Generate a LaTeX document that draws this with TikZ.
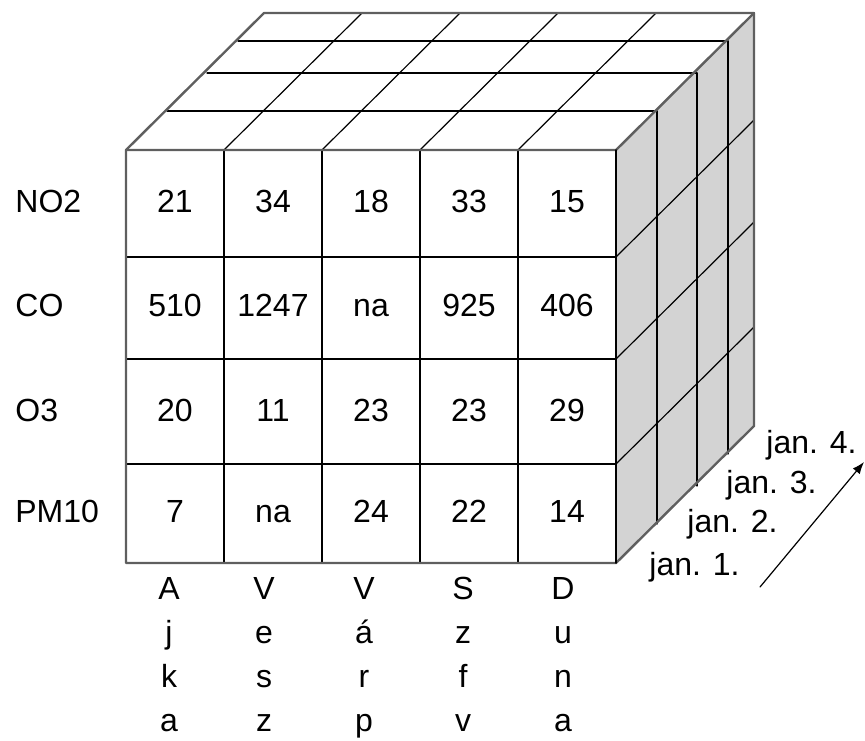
\documentclass[tikz,border=0pt]{standalone}
\usepackage{fontspec}
\setmainfont{Liberation Sans}
\usetikzlibrary{arrows.meta}
\definecolor{sideface}{RGB}{211,211,211}
\definecolor{edgegray}{RGB}{95,95,95}

\begin{document}
\begin{tikzpicture}[x=0.5pt,y=-0.5pt,>={Latex[length=6pt,width=4.5pt]},font=\fontsize{16}{22}\selectfont,line cap=round,
  grid/.style={black,line width=0.6pt},
  rim/.style={edgegray,line width=1.2pt,line join=round},
  cell/.style={anchor=base,inner sep=0pt},
  lbl/.style={anchor=base west,inner sep=0pt}]
\useasboundingbox (0,0) rectangle (865,740);
% shaded side of the cube
\fill[sideface] (616,150) -- (754,13) -- (754,426) -- (616,563) -- cycle;
% days going back
\foreach \dx/\dy in {41/39,81/77,112/109} {
  \draw[grid] (126+\dx,150-\dy) -- (616+\dx,150-\dy);
  \draw[grid] (616+\dx,150-\dy) -- (616+\dx,563-\dy);
}
\foreach \x in {224,322,420,518} {
  \draw[grid] (\x,150) -- (\x+138,13);
  \draw[grid] (\x,150) -- (\x,563);
}
\foreach \y in {257,359,464} {
  \draw[grid] (616,\y) -- (754,\y-137);
  \draw[grid] (126,\y) -- (616,\y);
}
\draw[rim] (126,563) -- (126,150) -- (264,13) -- (754,13) -- (754,426) -- (616,563) -- cycle;
\draw[rim] (126,150) -- (616,150) -- (754,13);
\draw[black,line width=0.8pt] (616,150) -- (616,563);
% measured values
\foreach \row/\base/\vals in {NO2/212/{21,34,18,33,15},CO/316/{510,1247,na,925,406},
    O3/421/{20,11,23,23,29},PM10/522/{7,na,24,22,14}} {
  \node[lbl] (\row) at (15,\base) {\row};
  \foreach \v [count=\c] in \vals
    \node[cell] (\row-\c) at (77+98*\c,\base) {\v};
}
% stations
\foreach \name/\x [count=\c] in {{A\\j\\k\\a}/169,{V\\e\\s\\z}/264,{V\\á\\r\\p}/364,{S\\z\\f\\v}/463,{D\\u\\n\\a}/563}
  \node[anchor=north,inner sep=0pt,align=center] (town\c) at (\x,577) {\name};
% days
\foreach \d/\x/\y in {1/740/575,2/778/532,3/817/493,4/857/453}
  \node[anchor=base east,inner sep=0pt] (jan\d) at (\x,\y) {jan. \d.};
\coordinate (tail) at (760,587);
\coordinate (head) at (864,462);
\draw[->,line width=0.6pt] (tail) -- (head);
\end{tikzpicture}
\end{document}
